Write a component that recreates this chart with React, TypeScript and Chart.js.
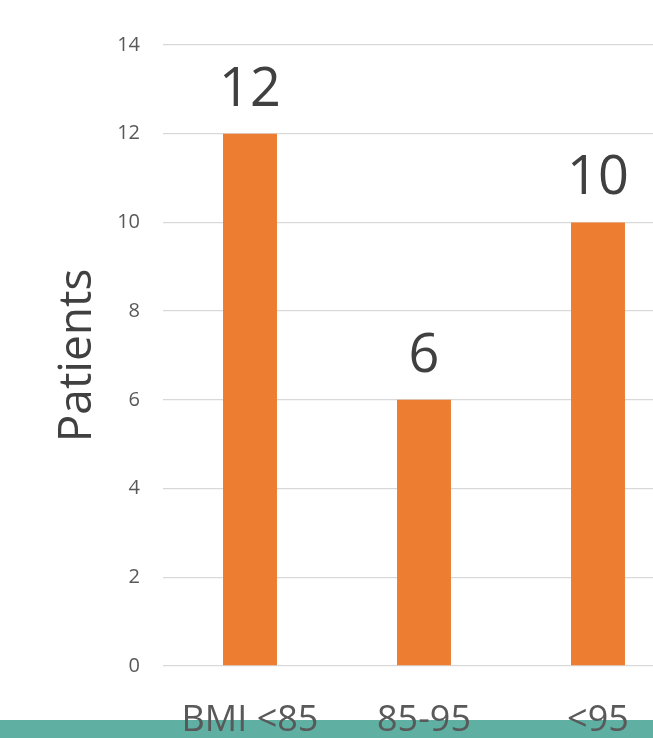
import React, { useEffect, useRef } from "react";
import { Chart, registerables } from "chart.js";

Chart.register(...registerables);

const categories = ["BMI <85", "85-95", "<95"];
const patients = [12, 6, 10];
const yTicks = [0, 2, 4, 6, 8, 10, 12, 14];
const axisTitle = "Patients";

const FONT = "'Open Sans', 'Liberation Sans', sans-serif";

const valueLabels = {
  id: "valueLabels",
  afterDatasetsDraw(chart: any) {
    const ctx = chart.ctx;
    const meta = chart.getDatasetMeta(0);
    ctx.save();
    ctx.font = `54px ${FONT}`;
    ctx.fillStyle = "#404040";
    ctx.textAlign = "center";
    ctx.textBaseline = "alphabetic";
    meta.data.forEach((bar: any, i: number) => {
      ctx.fillText(String(chart.data.datasets[0].data[i]), bar.x, bar.y - 28);
    });
    ctx.restore();
  },
};

export default function App() {
  const ref = useRef<HTMLCanvasElement | null>(null);
  useEffect(() => {
    document.body.style.margin = "0";
    const chart = new Chart(ref.current!, {
      type: "bar",
      data: {
        labels: categories,
        datasets: [
          {
            data: patients,
            backgroundColor: "#ED7D31",
            borderWidth: 0,
            categoryPercentage: 1,
            barPercentage: 0.31,
          },
        ],
      },
      options: {
        animation: false,
        responsive: false,
        devicePixelRatio: 1,
        layout: { padding: { top: 45, right: 5, left: 0, bottom: 0 } },
        plugins: { legend: { display: false }, tooltip: { enabled: false } },
        scales: {
          x: {
            grid: { display: false },
            border: { display: false },
            ticks: {
              color: "#595959",
              font: { family: FONT, size: 36 },
              padding: 25,
              maxRotation: 0,
            },
            afterFit(scale: any) {
              scale.height = 72;
            },
          },
          y: {
            min: 0,
            max: 14,
            afterBuildTicks(scale: any) {
              scale.ticks = yTicks.map((v) => ({ value: v }));
            },
            grid: { color: "#d9d9d9", lineWidth: 1.3, drawTicks: false },
            border: { display: false },
            ticks: {
              color: "#595959",
              font: { family: FONT, size: 20 },
              padding: 23,
            },
            title: {
              display: true,
              text: axisTitle,
              color: "#404040",
              font: { family: FONT, size: 46 },
              padding: { top: 50, bottom: 0 },
            },
            afterFit(scale: any) {
              scale.width = 163;
            },
          },
        },
      },
      plugins: [valueLabels],
    });
    return () => chart.destroy();
  }, []);

  return (
    <div
      style={{
        position: "fixed",
        left: 0,
        top: 0,
        width: 653,
        height: 738,
        overflow: "hidden",
        background: "#ffffff",
      }}
    >
      <div
        style={{
          position: "absolute",
          left: 0,
          top: 720,
          width: 653,
          height: 18,
          background: "#5FAFA3",
        }}
      />
      <canvas
        ref={ref}
        width={690}
        height={738}
        style={{ position: "absolute", left: 0, top: 0, width: 690, height: 738 }}
      />
    </div>
  );
}
